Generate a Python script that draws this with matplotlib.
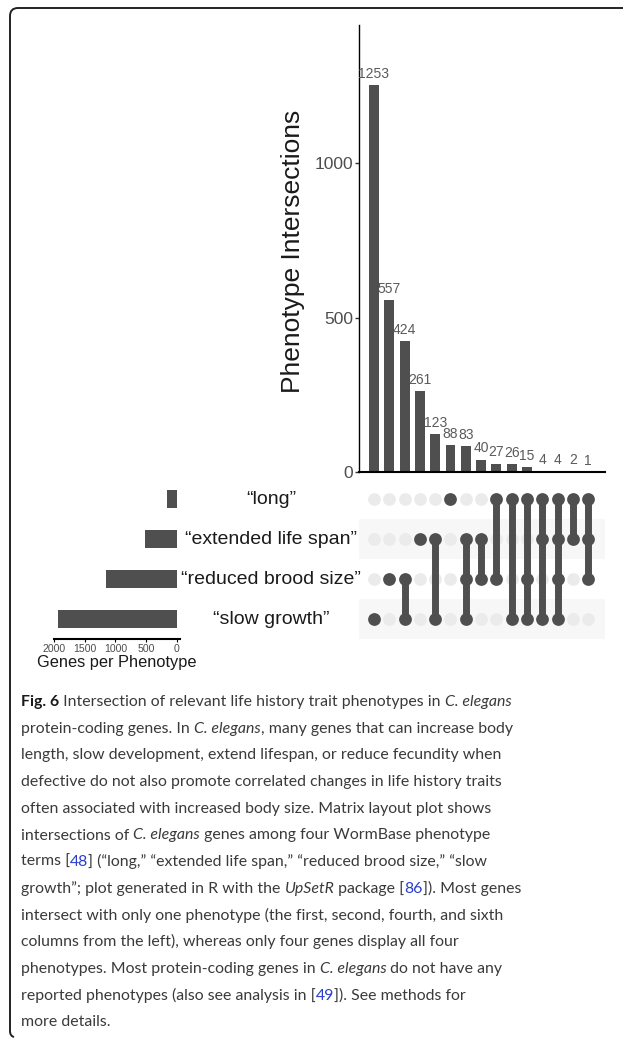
import matplotlib
matplotlib.use("Agg")
import matplotlib.pyplot as plt
from matplotlib.path import Path
from matplotlib.patches import PathPatch

# data
set_names = ['\u201clong\u201d', '\u201cextended life span\u201d',
             '\u201creduced brood size\u201d', '\u201cslow growth\u201d']
set_sizes = [167, 518, 1151, 1932]
counts = [1253, 557, 424, 261, 123, 88, 83, 40, 27, 26, 15, 4, 4, 2, 1]
# which sets (row index, top to bottom) take part in each intersection column
members = [[3], [2], [2, 3], [1], [1, 3], [0], [1, 2, 3], [1, 2],
           [0, 2], [0, 3], [0, 2, 3], [0, 1, 3], [0, 1, 2, 3], [0, 1], [0, 1, 2]]
yticks = [0, 500, 1000]
size_ticks = [2000, 1500, 1000, 500, 0]

W, H = 625, 1038
DARK = '#4f4f4f'
LIGHT = '#ebebeb'
BAND = '#f7f7f7'
GREY_TXT = '#4d4d4d'

plt.rcParams['font.family'] = ['Liberation Sans', 'DejaVu Sans']

fig = plt.figure(figsize=(W / 100, H / 100), dpi=100)


def box(x0, y0, x1, y1):
    # pixel box (top-left origin) -> figure fraction rect
    return [x0 / W, 1 - y1 / H, (x1 - x0) / W, (y1 - y0) / H]


xs = list(range(len(counts)))
xlim = (-0.98, 15.1)

# intersection bars
ax = fig.add_axes(box(359, 25, 605, 472))
ax.bar(xs, counts, width=0.65, color=DARK)
for x, c in zip(xs, counts):
    ax.annotate(str(c), (x, c), xytext=(0, 3), textcoords='offset points',
                ha='center', va='bottom', fontsize=10, color='#5a5a5a')
ax.set_xlim(*xlim)
ax.set_ylim(0, 1447)
ax.set_yticks(yticks)
ax.set_xticks([])
ax.tick_params(axis='y', length=3, width=1, colors='#333333', labelcolor=GREY_TXT,
               labelsize=12.5, pad=1)
for s in ['top', 'right']:
    ax.spines[s].set_visible(False)
ax.spines['left'].set_linewidth(1.0)
ax.spines['bottom'].set_linewidth(1.5)
fig.text(293 / W, 1 - 251 / H, 'Phenotype Intersections', rotation=90,
         ha='center', va='center', fontsize=19, color='#1a1a1a')

# matrix
mx = fig.add_axes(box(359, 479, 605, 639))
mx.set_xlim(*xlim)
mx.set_ylim(3.5, -0.5)
for r in range(len(set_names)):
    if r % 2 == 1:
        mx.axhspan(r - 0.5, r + 0.5, color=BAND, lw=0, zorder=0)
for x, m in zip(xs, members):
    for r in range(len(set_names)):
        if r not in m:
            mx.plot(x, r, 'o', ms=9.2, color=LIGHT, mec='none', zorder=1)
    if len(m) > 1:
        mx.plot([x, x], [min(m), max(m)], color=DARK, lw=5, zorder=2,
                solid_capstyle='butt')
    for r in m:
        mx.plot(x, r, 'o', ms=9.2, color=DARK, mec='none', zorder=3)
mx.axis('off')

# set sizes
sx = fig.add_axes(box(54, 479, 180, 639))
sx.barh(range(len(set_sizes)), set_sizes, height=0.44, color=DARK)
sx.set_xlim(2000, -49)
sx.set_ylim(3.5, -0.5)
sx.set_xticks(size_ticks)
sx.set_yticks([])
sx.tick_params(axis='x', length=2, width=0.8, labelsize=7.6, labelcolor=GREY_TXT, pad=1.5)
for s in ['top', 'right', 'left']:
    sx.spines[s].set_visible(False)
sx.spines['bottom'].set_linewidth(1.5)
sx.set_xlabel('Genes per Phenotype', fontsize=11.8, labelpad=1, color='#1a1a1a')

for r, name in enumerate(set_names):
    fig.text(271 / W, 1 - (499 + 40 * r) / H, name, ha='center', va='center',
             fontsize=14, color='#1a1a1a')

# frame
verts = [(623, 8), (18, 8), (10, 8), (10, 16), (10, 1031), (10, 1036), (14, 1037)]
verts = [(x / W, 1 - y / H) for x, y in verts]
codes = [Path.MOVETO, Path.LINETO, Path.CURVE3, Path.CURVE3, Path.LINETO,
         Path.CURVE3, Path.CURVE3]
fig.add_artist(PathPatch(Path(verts, codes), fill=False, lw=1.4, ec='#222222',
                         transform=fig.transFigure))

# caption
caption = [
    [('Fig. 6', 'b'), (' Intersection of relevant life history trait phenotypes in ', 'n'), ('C. elegans', 'i')],
    [('protein-coding genes. In ', 'n'), ('C. elegans', 'i'), (', many genes that can increase body', 'n')],
    [('length, slow development, extend lifespan, or reduce fecundity when', 'n')],
    [('defective do not also promote correlated changes in life history traits', 'n')],
    [('often associated with increased body size. Matrix layout plot shows', 'n')],
    [('intersections of ', 'n'), ('C. elegans', 'i'), (' genes among four WormBase phenotype', 'n')],
    [('terms [', 'n'), ('48', 'l'), ('] (\u201clong,\u201d \u201cextended life span,\u201d \u201creduced brood size,\u201d \u201cslow', 'n')],
    [('growth\u201d; plot generated in R with the ', 'n'), ('UpSetR', 'i'), (' package [', 'n'), ('86', 'l'), (']). Most genes', 'n')],
    [('intersect with only one phenotype (the first, second, fourth, and sixth', 'n')],
    [('columns from the left), whereas only four genes display all four', 'n')],
    [('phenotypes. Most protein-coding genes in ', 'n'), ('C. elegans', 'i'), (' do not have any', 'n')],
    [('reported phenotypes (also see analysis in [', 'n'), ('49', 'l'), (']). See methods for', 'n')],
    [('more details.', 'n')],
]
cap_font = 'Lato'
cap_size = 11.4
styles = {
    'n': dict(color='#3a3a3a'),
    'b': dict(color='#1a1a1a', weight='bold'),
    'i': dict(color='#3a3a3a', style='italic'),
    'l': dict(color='#2a3fd0'),
}
renderer = fig.canvas.get_renderer()


def seg_width(s, kw):
    t = fig.text(0, 0, '|' + s + '|', **kw)
    w1 = t.get_window_extent(renderer).width
    t.set_text('||')
    w2 = t.get_window_extent(renderer).width
    t.remove()
    return w1 - w2


base = 706
for i, line in enumerate(caption):
    x = 21
    y = base + 26.7 * i
    for txt, st in line:
        kw = dict(family=cap_font, fontsize=cap_size, **styles[st])
        fig.text(x / W, 1 - y / H, txt, ha='left', va='baseline', **kw)
        x += seg_width(txt, kw)

fig.savefig('out.png', dpi=100, facecolor='white')
